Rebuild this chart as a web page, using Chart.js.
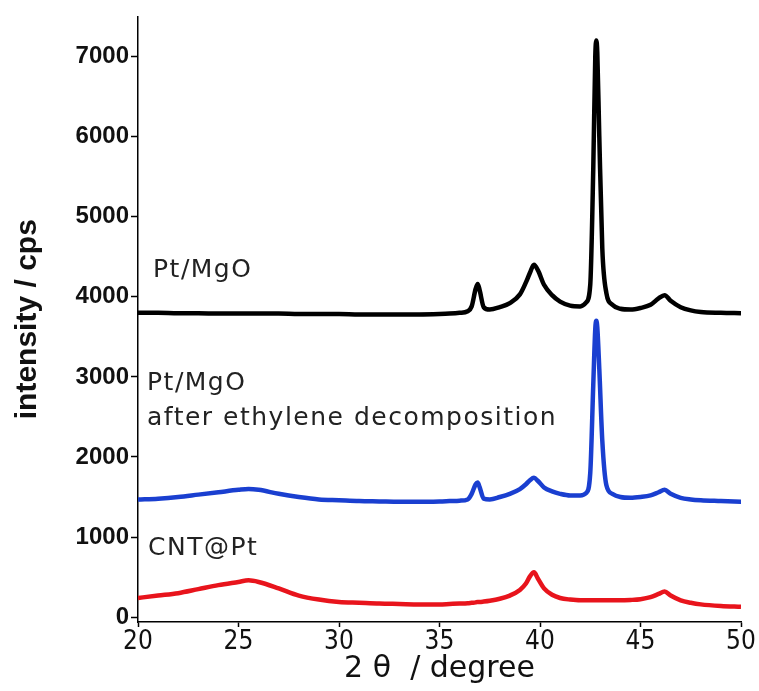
<!DOCTYPE html>
<html>
<head>
<meta charset="utf-8">
<script src="https://cdn.jsdelivr.net/npm/chart.js@4.4.1/dist/chart.umd.min.js"></script>
<style>
  html, body { margin: 0; padding: 0; background: #fff; }
  #wrap { width: 759px; height: 691px; }
</style>
</head>
<body>
<div id="wrap"><canvas id="xrdChart" width="759" height="691"></canvas></div>
<script>
// 2theta positions (degree)
var twoTheta = [20, 21, 22, 23, 24, 25, 25.5, 26, 27, 28, 29, 30, 31, 32, 33, 34, 35, 35.5, 36, 36.4,
  36.6, 36.8, 36.9, 37.0, 37.2, 37.5, 38, 38.5, 39, 39.3, 39.5, 39.7, 39.9, 40.2, 40.6, 41, 41.5, 42, 42.3,
  42.5, 42.65, 42.75, 42.8, 42.85, 42.95, 43.1, 43.3, 43.6, 44, 44.5, 45, 45.5, 45.9, 46.2, 46.5, 47, 47.5,
  48, 49, 50];

// intensity (cps)
var ptMgO = [3800, 3800, 3795, 3795, 3790, 3790, 3790, 3790, 3790, 3785, 3785, 3785, 3780, 3780, 3780, 3780,
  3785, 3790, 3800, 3820, 3880, 4100, 4160, 4080, 3870, 3840, 3870, 3920, 4030, 4180, 4300, 4400, 4330,
  4150, 4020, 3940, 3890, 3880, 3930, 4150, 5600, 7000, 7200, 7050, 6000, 4600, 4050, 3900, 3850, 3840,
  3860, 3900, 3980, 4020, 3950, 3870, 3830, 3810, 3800, 3795];

var ptMgOAfter = [1470, 1480, 1500, 1530, 1560, 1590, 1600, 1590, 1540, 1500, 1470, 1460, 1450, 1445, 1440,
  1440, 1445, 1450, 1455, 1470, 1540, 1660, 1680, 1620, 1480, 1470, 1500, 1540, 1600, 1660, 1710, 1740,
  1700, 1620, 1570, 1540, 1520, 1520, 1550, 1800, 2900, 3600, 3700, 3620, 3100, 2200, 1650, 1540, 1500,
  1490, 1500, 1520, 1560, 1590, 1540, 1490, 1470, 1460, 1450, 1440];

var cntPt = [240, 270, 300, 350, 400, 440, 460, 440, 360, 270, 220, 190, 180, 170, 165, 160, 160, 165, 170,
  175, 180, 185, 190, 190, 195, 205, 230, 270, 340, 420, 510, 560, 480, 360, 280, 240, 220, 210, 210, 210,
  210, 210, 210, 210, 210, 210, 210, 210, 210, 215, 225, 250, 290, 320, 270, 210, 180, 160, 140, 130];

var yTicks = [0, 1000, 2000, 3000, 4000, 5000, 6000, 7000];
var xTicks = [20, 25, 30, 35, 40, 45, 50];

function toPoints(ys) {
  return twoTheta.map(function (x, i) { return { x: x, y: ys[i] }; });
}

// labels written next to each curve
var curveLabels = [
  { text: 'Pt/MgO', x: 153, y: 270 },
  { text: 'Pt/MgO', x: 147, y: 383 },
  { text: 'after ethylene decomposition', x: 147, y: 418 },
  { text: 'CNT@Pt', x: 148, y: 548 }
];

var labelPlugin = {
  id: 'curveLabels',
  afterDatasetsDraw: function (chart) {
    var ctx = chart.ctx;
    ctx.save();
    ctx.fillStyle = '#222';
    ctx.font = '25px "DejaVu Sans", sans-serif';
    ctx.letterSpacing = '1.5px';
    ctx.textBaseline = 'middle';
    ctx.textAlign = 'left';
    curveLabels.forEach(function (l) { ctx.fillText(l.text, l.x, l.y); });
    ctx.restore();
  }
};

var ctx = document.getElementById('xrdChart').getContext('2d');
var xrdChart = new Chart(ctx, {
  type: 'line',
  data: {
    datasets: [
      { label: 'Pt/MgO', data: toPoints(ptMgO), borderColor: '#000000' },
      { label: 'Pt/MgO after ethylene decomposition', data: toPoints(ptMgOAfter), borderColor: '#1a3fd0' },
      { label: 'CNT@Pt', data: toPoints(cntPt), borderColor: '#e8141c' }
    ]
  },
  options: {
    responsive: false,
    animation: false,
    layout: { padding: { top: 13, right: 18, left: 0, bottom: 0 } },
    elements: {
      point: { radius: 0 },
      line: { borderWidth: 4.5, cubicInterpolationMode: 'monotone' }
    },
    plugins: { legend: { display: false }, tooltip: { enabled: false } },
    scales: {
      x: {
        type: 'linear',
        min: 20,
        max: 50,
        afterBuildTicks: function (scale) {
          scale.ticks = xTicks.map(function (v) { return { value: v }; });
        },
        afterFit: function (scale) { scale.height = 69; },
        grid: { drawOnChartArea: false, color: '#000', tickLength: 5, tickWidth: 1.5 },
        border: { color: '#000', width: 1.5 },
        ticks: {
          color: '#111',
          padding: 0,
          callback: function (v) { return String(v); },
          font: { family: '"Liberation Sans Narrow", "DejaVu Sans Condensed", sans-serif', size: 26, weight: 'normal' }
        },
        title: {
          display: true,
          text: '2 \u03B8  / degree',
          color: '#111',
          padding: { top: -8 },
          font: { family: '"DejaVu Sans", sans-serif', size: 30, weight: 'normal' }
        }
      },
      y: {
        min: -60,
        max: 7500,
        afterBuildTicks: function (scale) {
          scale.ticks = yTicks.map(function (v) { return { value: v }; });
        },
        afterFit: function (scale) { scale.width = 138; },
        grid: { drawOnChartArea: false, color: '#000', tickLength: 7, tickWidth: 1.5 },
        border: { color: '#000', width: 1.5 },
        ticks: {
          color: '#111',
          padding: 2,
          callback: function (v) { return String(v); },
          font: { family: '"Liberation Sans", Arial, sans-serif', size: 24, weight: 'bold' }
        },
        title: {
          display: true,
          text: 'intensity / cps',
          color: '#111',
          padding: { top: 10, bottom: 0 },
          font: { family: '"Liberation Sans", Arial, sans-serif', size: 30, weight: 'bold' }
        }
      }
    }
  },
  plugins: [labelPlugin]
});
</script>
</body>
</html>
